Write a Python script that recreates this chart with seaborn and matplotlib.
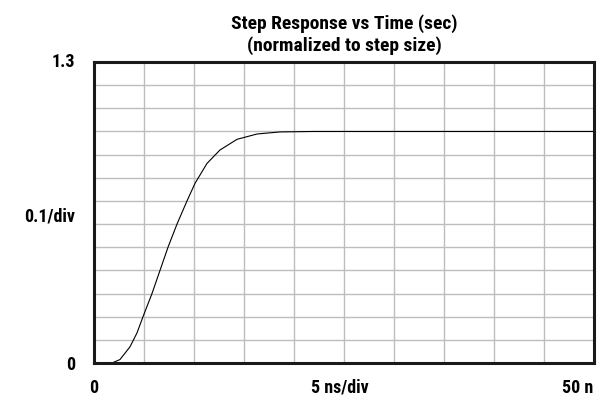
import numpy as np
import pandas as pd
import matplotlib
matplotlib.use("Agg")
import matplotlib.pyplot as plt
import seaborn as sns

# step response (ns, normalized)
time_ns = [0.0, 1.0, 1.8, 2.6, 3.6, 4.3, 4.9, 5.8, 6.6, 7.4, 8.3, 9.3, 10.1,
           11.3, 12.6, 14.3, 16.3, 18.6, 22.0, 30.0, 40.0, 50.0]
response = [0.0, 0.0, 0.0, 0.015, 0.07, 0.13, 0.20, 0.30, 0.40, 0.50, 0.60, 0.70,
            0.776, 0.862, 0.92, 0.966, 0.989, 0.998, 1.0, 1.0, 1.0, 1.0]

x_labels = ["0", "5 ns/div", "50 n"]
y_labels = ["0", "0.1/div", "1.3"]

df = pd.DataFrame({"t": time_ns, "v": response})

sns.set_style("white")
plt.rcParams['font.family'] = ['Roboto Condensed', 'Liberation Sans Narrow', 'DejaVu Sans']
plt.rcParams['font.stretch'] = 'condensed'
plt.rcParams['text.color'] = 'black'

fig = plt.figure(figsize=(6.05, 4.04), dpi=100)
ax = fig.add_axes([94 / 605, 1 - 363 / 404, 500 / 605, 301 / 404])

sns.lineplot(data=df, x="t", y="v", ax=ax, color="black", linewidth=0.8)

ax.set_xlim(0, 50)
ax.set_ylim(0, 1.3)
ax.set_xticks(np.arange(0, 51, 5))
ax.set_yticks(np.arange(0, 1.31, 0.1))
ax.grid(True, color="#bdbdbd", linewidth=1.0)
ax.tick_params(length=0, labelbottom=False, labelleft=False)
ax.set_xlabel("")
ax.set_ylabel("")
for s in ax.spines.values():
    s.set_visible(True)
    s.set_color("#1a1a1a")
    s.set_linewidth(2.2)

fs = 13
w = "black"
ax.text(0.0, -0.083, x_labels[0], transform=ax.transAxes, ha="center", va="center",
        fontsize=fs, fontweight=w)
ax.text(0.492, -0.083, x_labels[1], transform=ax.transAxes, ha="center", va="center",
        fontsize=fs, fontweight=w)
ax.text(0.998, -0.083, x_labels[2], transform=ax.transAxes, ha="right", va="center",
        fontsize=fs, fontweight=w)
ax.text(-0.038, -0.007, y_labels[0], transform=ax.transAxes, ha="right", va="center",
        fontsize=fs, fontweight=w)
ax.text(-0.038, 0.488, y_labels[1], transform=ax.transAxes, ha="right", va="center",
        fontsize=fs, fontweight=w)
ax.text(-0.038, 1.0, y_labels[2], transform=ax.transAxes, ha="right", va="center",
        fontsize=fs, fontweight=w)

ax.set_title("Step Response vs Time (sec)\n(normalized to step size)",
             fontsize=14, fontweight=w, pad=8, linespacing=1.2)

fig.savefig("out.png", dpi=100)
